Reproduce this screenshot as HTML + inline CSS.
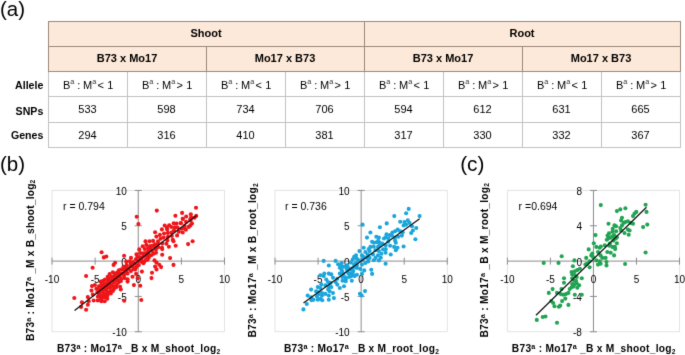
<!DOCTYPE html>
<html><head><meta charset="utf-8"><style>
html,body{margin:0;padding:0;background:#fff;width:685px;height:355px;overflow:hidden}
svg{display:block;font-family:"Liberation Sans",sans-serif}

</style></head><body><svg width="685" height="355" viewBox="0 0 685 355" font-family="Liberation Sans, sans-serif" fill="#000"><defs><filter id="soft" filterUnits="userSpaceOnUse" x="0" y="0" width="685" height="355" color-interpolation-filters="sRGB"><feConvolveMatrix order="3" kernelMatrix="0.01 0.08 0.01 0.08 0.64 0.08 0.01 0.08 0.01" edgeMode="duplicate"/></filter></defs><g filter="url(#soft)"><rect width="685" height="355" fill="#fff"/><rect x="48" y="21" width="632" height="50" fill="#fde9d9"/><line x1="48.5" y1="71" x2="48.5" y2="147.5" stroke="#c2c2c2" stroke-width="1"/><line x1="127.5" y1="71" x2="127.5" y2="147.5" stroke="#c2c2c2" stroke-width="1"/><line x1="206.5" y1="71" x2="206.5" y2="147.5" stroke="#c2c2c2" stroke-width="1"/><line x1="285.5" y1="71" x2="285.5" y2="147.5" stroke="#c2c2c2" stroke-width="1"/><line x1="364.5" y1="71" x2="364.5" y2="147.5" stroke="#c2c2c2" stroke-width="1"/><line x1="443.5" y1="71" x2="443.5" y2="147.5" stroke="#c2c2c2" stroke-width="1"/><line x1="522.5" y1="71" x2="522.5" y2="147.5" stroke="#c2c2c2" stroke-width="1"/><line x1="601.5" y1="71" x2="601.5" y2="147.5" stroke="#c2c2c2" stroke-width="1"/><line x1="680.5" y1="71" x2="680.5" y2="147.5" stroke="#c2c2c2" stroke-width="1"/><line x1="48" y1="96.5" x2="681" y2="96.5" stroke="#c2c2c2" stroke-width="1"/><line x1="48" y1="122.5" x2="681" y2="122.5" stroke="#c2c2c2" stroke-width="1"/><line x1="48" y1="147.5" x2="681" y2="147.5" stroke="#c2c2c2" stroke-width="1"/><line x1="48" y1="21.5" x2="681" y2="21.5" stroke="#9d897d" stroke-width="1"/><line x1="48" y1="46.5" x2="681" y2="46.5" stroke="#9d897d" stroke-width="1"/><line x1="48" y1="71.5" x2="681" y2="71.5" stroke="#9d897d" stroke-width="1"/><line x1="48.5" y1="21" x2="48.5" y2="71" stroke="#9d897d" stroke-width="1"/><line x1="364.5" y1="21" x2="364.5" y2="71" stroke="#9d897d" stroke-width="1"/><line x1="680.5" y1="21" x2="680.5" y2="71" stroke="#9d897d" stroke-width="1"/><line x1="206.5" y1="46" x2="206.5" y2="71" stroke="#9d897d" stroke-width="1"/><line x1="522.5" y1="46" x2="522.5" y2="71" stroke="#9d897d" stroke-width="1"/><text x="206" y="37" font-size="11" text-anchor="middle" font-weight="bold" >Shoot</text><text x="522" y="37" font-size="11" text-anchor="middle" font-weight="bold" >Root</text><text x="127" y="62" font-size="11" text-anchor="middle" font-weight="bold" >B73 x Mo17</text><text x="285" y="62" font-size="11" text-anchor="middle" font-weight="bold" >Mo17 x B73</text><text x="443" y="62" font-size="11" text-anchor="middle" font-weight="bold" >B73 x Mo17</text><text x="601" y="62" font-size="11" text-anchor="middle" font-weight="bold" >Mo17 x B73</text><text x="43.3" y="89.3" font-size="10.6" text-anchor="end" font-weight="bold" >Allele</text><text x="43.3" y="114.5" font-size="10.6" text-anchor="end" font-weight="bold" >SNPs</text><text x="43.3" y="139" font-size="10.6" text-anchor="end" font-weight="bold" >Genes</text><text font-size="11" y="89.2"><tspan x="62.9">B</tspan><tspan x="77.2">:</tspan><tspan x="83.1">M</tspan><tspan x="97.4">&lt;</tspan><tspan x="107.3">1</tspan></text><text font-size="7.3" y="83.9" fill="#333"><tspan x="70.2">a</tspan><tspan x="92.2">a</tspan></text><text font-size="11" y="89.2"><tspan x="141.9">B</tspan><tspan x="156.2">:</tspan><tspan x="162.1">M</tspan><tspan x="176.4">&gt;</tspan><tspan x="186.3">1</tspan></text><text font-size="7.3" y="83.9" fill="#333"><tspan x="149.2">a</tspan><tspan x="171.2">a</tspan></text><text font-size="11" y="89.2"><tspan x="220.9">B</tspan><tspan x="235.2">:</tspan><tspan x="241.1">M</tspan><tspan x="255.4">&lt;</tspan><tspan x="265.3">1</tspan></text><text font-size="7.3" y="83.9" fill="#333"><tspan x="228.2">a</tspan><tspan x="250.2">a</tspan></text><text font-size="11" y="89.2"><tspan x="299.9">B</tspan><tspan x="314.2">:</tspan><tspan x="320.1">M</tspan><tspan x="334.4">&gt;</tspan><tspan x="344.3">1</tspan></text><text font-size="7.3" y="83.9" fill="#333"><tspan x="307.2">a</tspan><tspan x="329.2">a</tspan></text><text font-size="11" y="89.2"><tspan x="378.9">B</tspan><tspan x="393.2">:</tspan><tspan x="399.1">M</tspan><tspan x="413.4">&lt;</tspan><tspan x="423.3">1</tspan></text><text font-size="7.3" y="83.9" fill="#333"><tspan x="386.2">a</tspan><tspan x="408.2">a</tspan></text><text font-size="11" y="89.2"><tspan x="457.9">B</tspan><tspan x="472.2">:</tspan><tspan x="478.1">M</tspan><tspan x="492.4">&gt;</tspan><tspan x="502.3">1</tspan></text><text font-size="7.3" y="83.9" fill="#333"><tspan x="465.2">a</tspan><tspan x="487.2">a</tspan></text><text font-size="11" y="89.2"><tspan x="536.9">B</tspan><tspan x="551.2">:</tspan><tspan x="557.1">M</tspan><tspan x="571.4">&lt;</tspan><tspan x="581.3">1</tspan></text><text font-size="7.3" y="83.9" fill="#333"><tspan x="544.2">a</tspan><tspan x="566.2">a</tspan></text><text font-size="11" y="89.2"><tspan x="615.9">B</tspan><tspan x="630.2">:</tspan><tspan x="636.1">M</tspan><tspan x="650.4">&gt;</tspan><tspan x="660.3">1</tspan></text><text font-size="7.3" y="83.9" fill="#333"><tspan x="623.2">a</tspan><tspan x="645.2">a</tspan></text><text x="87.5" y="113.3" font-size="11" text-anchor="middle" font-weight="normal" >533</text><text x="87.5" y="138.6" font-size="11" text-anchor="middle" font-weight="normal" >294</text><text x="166.5" y="113.3" font-size="11" text-anchor="middle" font-weight="normal" >598</text><text x="166.5" y="138.6" font-size="11" text-anchor="middle" font-weight="normal" >316</text><text x="245.5" y="113.3" font-size="11" text-anchor="middle" font-weight="normal" >734</text><text x="245.5" y="138.6" font-size="11" text-anchor="middle" font-weight="normal" >410</text><text x="324.5" y="113.3" font-size="11" text-anchor="middle" font-weight="normal" >706</text><text x="324.5" y="138.6" font-size="11" text-anchor="middle" font-weight="normal" >381</text><text x="403.5" y="113.3" font-size="11" text-anchor="middle" font-weight="normal" >594</text><text x="403.5" y="138.6" font-size="11" text-anchor="middle" font-weight="normal" >317</text><text x="482.5" y="113.3" font-size="11" text-anchor="middle" font-weight="normal" >612</text><text x="482.5" y="138.6" font-size="11" text-anchor="middle" font-weight="normal" >330</text><text x="561.5" y="113.3" font-size="11" text-anchor="middle" font-weight="normal" >631</text><text x="561.5" y="138.6" font-size="11" text-anchor="middle" font-weight="normal" >332</text><text x="640.5" y="113.3" font-size="11" text-anchor="middle" font-weight="normal" >665</text><text x="640.5" y="138.6" font-size="11" text-anchor="middle" font-weight="normal" >367</text><text x="0" y="15.6" font-size="20.5" text-anchor="start" font-weight="normal" >(a)</text><text x="0" y="171.4" font-size="20.5" text-anchor="start" font-weight="normal" >(b)</text><text x="460.2" y="171.4" font-size="20.8" text-anchor="start" font-weight="normal" >(c)</text><rect x="52" y="190.4" width="172.5" height="141.29999999999998" fill="none" stroke="#e3e3e3" stroke-width="1"/><line x1="52" y1="261.1" x2="224.5" y2="261.1" stroke="#8c8c8c" stroke-width="1"/><line x1="138.25" y1="190.4" x2="138.25" y2="331.7" stroke="#8c8c8c" stroke-width="1"/><line x1="52.0" y1="257.6" x2="52.0" y2="264.6" stroke="#8c8c8c" stroke-width="1"/><text x="52.0" y="283.3" font-size="10" text-anchor="middle" font-weight="normal" >-10</text><line x1="95.125" y1="257.6" x2="95.125" y2="264.6" stroke="#8c8c8c" stroke-width="1"/><text x="95.125" y="283.3" font-size="10" text-anchor="middle" font-weight="normal" >-5</text><line x1="138.25" y1="257.6" x2="138.25" y2="264.6" stroke="#8c8c8c" stroke-width="1"/><text x="138.25" y="283.3" font-size="10" text-anchor="middle" font-weight="normal" >0</text><line x1="181.375" y1="257.6" x2="181.375" y2="264.6" stroke="#8c8c8c" stroke-width="1"/><text x="181.375" y="283.3" font-size="10" text-anchor="middle" font-weight="normal" >5</text><line x1="224.5" y1="257.6" x2="224.5" y2="264.6" stroke="#8c8c8c" stroke-width="1"/><text x="224.5" y="283.3" font-size="10" text-anchor="middle" font-weight="normal" >10</text><line x1="134.75" y1="331.75" x2="141.75" y2="331.75" stroke="#8c8c8c" stroke-width="1"/><text x="126.75" y="336.15" font-size="10" text-anchor="end" font-weight="normal" >-10</text><line x1="134.75" y1="296.425" x2="141.75" y2="296.425" stroke="#8c8c8c" stroke-width="1"/><text x="126.75" y="300.825" font-size="10" text-anchor="end" font-weight="normal" >-5</text><line x1="134.75" y1="261.1" x2="141.75" y2="261.1" stroke="#8c8c8c" stroke-width="1"/><text x="126.75" y="265.5" font-size="10" text-anchor="end" font-weight="normal" >0</text><line x1="134.75" y1="225.77500000000003" x2="141.75" y2="225.77500000000003" stroke="#8c8c8c" stroke-width="1"/><text x="126.75" y="230.17500000000004" font-size="10" text-anchor="end" font-weight="normal" >5</text><line x1="134.75" y1="190.45000000000005" x2="141.75" y2="190.45000000000005" stroke="#8c8c8c" stroke-width="1"/><text x="126.75" y="194.85000000000005" font-size="10" text-anchor="end" font-weight="normal" >10</text><text x="63" y="209.6" font-size="10.5" text-anchor="start" font-weight="normal" >r = 0.794</text><circle cx="156.8" cy="210.6" r="2.05" fill="#ee1519"/><circle cx="136.7" cy="216.7" r="2.05" fill="#ee1519"/><circle cx="138.4" cy="224.0" r="2.05" fill="#ee1519"/><circle cx="196.0" cy="207.7" r="2.05" fill="#ee1519"/><circle cx="196.2" cy="215.9" r="2.05" fill="#ee1519"/><circle cx="182.1" cy="212.9" r="2.05" fill="#ee1519"/><circle cx="175.4" cy="215.7" r="2.05" fill="#ee1519"/><circle cx="182.7" cy="218.7" r="2.05" fill="#ee1519"/><circle cx="191.2" cy="217.4" r="2.05" fill="#ee1519"/><circle cx="190.6" cy="220.4" r="2.05" fill="#ee1519"/><circle cx="190.4" cy="225.4" r="2.05" fill="#ee1519"/><circle cx="184.7" cy="228.4" r="2.05" fill="#ee1519"/><circle cx="192.6" cy="241.2" r="2.05" fill="#ee1519"/><circle cx="188.1" cy="244.1" r="2.05" fill="#ee1519"/><circle cx="175.7" cy="245.7" r="2.05" fill="#ee1519"/><circle cx="173.5" cy="241.2" r="2.05" fill="#ee1519"/><circle cx="168.9" cy="246.8" r="2.05" fill="#ee1519"/><circle cx="162.2" cy="249.1" r="2.05" fill="#ee1519"/><circle cx="162.2" cy="254.7" r="2.05" fill="#ee1519"/><circle cx="170.1" cy="258.1" r="2.05" fill="#ee1519"/><circle cx="173.5" cy="264.9" r="2.05" fill="#ee1519"/><circle cx="156.5" cy="262.6" r="2.05" fill="#ee1519"/><circle cx="161.1" cy="267.1" r="2.05" fill="#ee1519"/><circle cx="156.5" cy="269.4" r="2.05" fill="#ee1519"/><circle cx="152" cy="272.7" r="2.05" fill="#ee1519"/><circle cx="141.9" cy="271.6" r="2.05" fill="#ee1519"/><circle cx="135.1" cy="269.4" r="2.05" fill="#ee1519"/><circle cx="101.6" cy="252.2" r="2.05" fill="#ee1519"/><circle cx="103.8" cy="257.4" r="2.05" fill="#ee1519"/><circle cx="106.3" cy="256.5" r="2.05" fill="#ee1519"/><circle cx="115.1" cy="262.7" r="2.05" fill="#ee1519"/><circle cx="113.6" cy="264.9" r="2.05" fill="#ee1519"/><circle cx="124.1" cy="255.7" r="2.05" fill="#ee1519"/><circle cx="92.6" cy="267.7" r="2.05" fill="#ee1519"/><circle cx="145.5" cy="241.3" r="2.05" fill="#ee1519"/><circle cx="155.1" cy="232.3" r="2.05" fill="#ee1519"/><circle cx="154.5" cy="260.4" r="2.05" fill="#ee1519"/><circle cx="155.1" cy="266.6" r="2.05" fill="#ee1519"/><circle cx="136.1" cy="273.9" r="2.05" fill="#ee1519"/><circle cx="132.5" cy="276.7" r="2.05" fill="#ee1519"/><circle cx="127.6" cy="281.6" r="2.05" fill="#ee1519"/><circle cx="133.9" cy="285.1" r="2.05" fill="#ee1519"/><circle cx="140.3" cy="285.8" r="2.05" fill="#ee1519"/><circle cx="151.5" cy="278.1" r="2.05" fill="#ee1519"/><circle cx="159.3" cy="264.7" r="2.05" fill="#ee1519"/><circle cx="86.1" cy="276" r="2.05" fill="#ee1519"/><circle cx="92" cy="286.1" r="2.05" fill="#ee1519"/><circle cx="96.3" cy="288.7" r="2.05" fill="#ee1519"/><circle cx="74.3" cy="298" r="2.05" fill="#ee1519"/><circle cx="81.9" cy="302.2" r="2.05" fill="#ee1519"/><circle cx="81.1" cy="306.9" r="2.05" fill="#ee1519"/><circle cx="86.1" cy="309.8" r="2.05" fill="#ee1519"/><circle cx="87.8" cy="304.7" r="2.05" fill="#ee1519"/><circle cx="88.7" cy="301.3" r="2.05" fill="#ee1519"/><circle cx="87.8" cy="297.1" r="2.05" fill="#ee1519"/><circle cx="92.9" cy="294.6" r="2.05" fill="#ee1519"/><circle cx="93.7" cy="300.5" r="2.05" fill="#ee1519"/><circle cx="101.3" cy="301.3" r="2.05" fill="#ee1519"/><circle cx="104.7" cy="301.3" r="2.05" fill="#ee1519"/><circle cx="120.8" cy="289.5" r="2.05" fill="#ee1519"/><circle cx="107.3" cy="298.8" r="2.05" fill="#ee1519"/><circle cx="124.2" cy="300.7" r="2.05" fill="#ee1519"/><circle cx="127.6" cy="279.3" r="2.05" fill="#ee1519"/><circle cx="137.7" cy="278.2" r="2.05" fill="#ee1519"/><circle cx="94.9" cy="285" r="2.05" fill="#ee1519"/><circle cx="91.5" cy="290.6" r="2.05" fill="#ee1519"/><circle cx="164.7" cy="225.5" r="2.05" fill="#ee1519"/><circle cx="169.2" cy="225.2" r="2.05" fill="#ee1519"/><circle cx="166.9" cy="227.7" r="2.05" fill="#ee1519"/><circle cx="161.9" cy="229.4" r="2.05" fill="#ee1519"/><circle cx="181.0" cy="223.2" r="2.05" fill="#ee1519"/><circle cx="173.7" cy="223.2" r="2.05" fill="#ee1519"/><circle cx="174.8" cy="227.2" r="2.05" fill="#ee1519"/><circle cx="141.3" cy="300" r="2.05" fill="#ee1519"/><circle cx="120.1" cy="286.8" r="2.05" fill="#ee1519"/><circle cx="147.6" cy="259.8" r="2.05" fill="#ee1519"/><circle cx="143.4" cy="263.2" r="2.05" fill="#ee1519"/><circle cx="110.2" cy="287.7" r="2.05" fill="#ee1519"/><circle cx="171.8" cy="236.0" r="2.05" fill="#ee1519"/><circle cx="145.6" cy="253.0" r="2.05" fill="#ee1519"/><circle cx="139.9" cy="257.0" r="2.05" fill="#ee1519"/><circle cx="126.7" cy="265.0" r="2.05" fill="#ee1519"/><circle cx="148.1" cy="248.1" r="2.05" fill="#ee1519"/><circle cx="153.6" cy="253.8" r="2.05" fill="#ee1519"/><circle cx="190.8" cy="214.2" r="2.05" fill="#ee1519"/><circle cx="152.0" cy="250.9" r="2.05" fill="#ee1519"/><circle cx="102.5" cy="289.7" r="2.05" fill="#ee1519"/><circle cx="146.5" cy="256.0" r="2.05" fill="#ee1519"/><circle cx="107.7" cy="292.3" r="2.05" fill="#ee1519"/><circle cx="111.4" cy="276.5" r="2.05" fill="#ee1519"/><circle cx="118.9" cy="270.3" r="2.05" fill="#ee1519"/><circle cx="135.7" cy="264.0" r="2.05" fill="#ee1519"/><circle cx="128.5" cy="268.8" r="2.05" fill="#ee1519"/><circle cx="117.2" cy="272.6" r="2.05" fill="#ee1519"/><circle cx="120.0" cy="277.0" r="2.05" fill="#ee1519"/><circle cx="192.0" cy="223.5" r="2.05" fill="#ee1519"/><circle cx="129.8" cy="261.2" r="2.05" fill="#ee1519"/><circle cx="184.6" cy="226.1" r="2.05" fill="#ee1519"/><circle cx="186.2" cy="216.5" r="2.05" fill="#ee1519"/><circle cx="136.3" cy="267.2" r="2.05" fill="#ee1519"/><circle cx="148.8" cy="257.4" r="2.05" fill="#ee1519"/><circle cx="124.0" cy="270.1" r="2.05" fill="#ee1519"/><circle cx="112.6" cy="280.6" r="2.05" fill="#ee1519"/><circle cx="101.0" cy="299.4" r="2.05" fill="#ee1519"/><circle cx="155.9" cy="249.4" r="2.05" fill="#ee1519"/><circle cx="121.3" cy="279.1" r="2.05" fill="#ee1519"/><circle cx="178.9" cy="231.8" r="2.05" fill="#ee1519"/><circle cx="121.6" cy="273.4" r="2.05" fill="#ee1519"/><circle cx="107.6" cy="284.2" r="2.05" fill="#ee1519"/><circle cx="108.6" cy="278.9" r="2.05" fill="#ee1519"/><circle cx="153.1" cy="240.9" r="2.05" fill="#ee1519"/><circle cx="146.3" cy="244.9" r="2.05" fill="#ee1519"/><circle cx="140.3" cy="253.0" r="2.05" fill="#ee1519"/><circle cx="104.3" cy="286.2" r="2.05" fill="#ee1519"/><circle cx="123.4" cy="266.9" r="2.05" fill="#ee1519"/><circle cx="113.9" cy="282.7" r="2.05" fill="#ee1519"/><circle cx="100.0" cy="292.2" r="2.05" fill="#ee1519"/><circle cx="158.0" cy="241.4" r="2.05" fill="#ee1519"/><circle cx="174.0" cy="230.3" r="2.05" fill="#ee1519"/><circle cx="156.4" cy="236.6" r="2.05" fill="#ee1519"/><circle cx="167.4" cy="240.4" r="2.05" fill="#ee1519"/><circle cx="194.5" cy="217.8" r="2.05" fill="#ee1519"/><circle cx="171.3" cy="227.0" r="2.05" fill="#ee1519"/><circle cx="162.0" cy="247.7" r="2.05" fill="#ee1519"/><circle cx="159.9" cy="234.9" r="2.05" fill="#ee1519"/><circle cx="102.9" cy="295.3" r="2.05" fill="#ee1519"/><circle cx="154.9" cy="244.2" r="2.05" fill="#ee1519"/><circle cx="109.7" cy="283.1" r="2.05" fill="#ee1519"/><circle cx="130.8" cy="263.9" r="2.05" fill="#ee1519"/><circle cx="101.3" cy="284.8" r="2.05" fill="#ee1519"/><circle cx="146.1" cy="259.6" r="2.05" fill="#ee1519"/><circle cx="136.5" cy="254.3" r="2.05" fill="#ee1519"/><circle cx="185.9" cy="229.8" r="2.05" fill="#ee1519"/><circle cx="114.0" cy="288.9" r="2.05" fill="#ee1519"/><circle cx="116.7" cy="278.9" r="2.05" fill="#ee1519"/><circle cx="144.7" cy="249.0" r="2.05" fill="#ee1519"/><circle cx="152.5" cy="245.9" r="2.05" fill="#ee1519"/><circle cx="180.7" cy="223.0" r="2.05" fill="#ee1519"/><circle cx="123.9" cy="275.4" r="2.05" fill="#ee1519"/><circle cx="130.2" cy="266.6" r="2.05" fill="#ee1519"/><circle cx="164.1" cy="233.5" r="2.05" fill="#ee1519"/><circle cx="163.6" cy="237.6" r="2.05" fill="#ee1519"/><circle cx="97.8" cy="296.8" r="2.05" fill="#ee1519"/><circle cx="130.9" cy="271.1" r="2.05" fill="#ee1519"/><circle cx="114.1" cy="276.3" r="2.05" fill="#ee1519"/><circle cx="143.2" cy="256.7" r="2.05" fill="#ee1519"/><circle cx="116.7" cy="285.0" r="2.05" fill="#ee1519"/><circle cx="107.1" cy="288.3" r="2.05" fill="#ee1519"/><circle cx="186.0" cy="221.9" r="2.05" fill="#ee1519"/><circle cx="103.3" cy="292.8" r="2.05" fill="#ee1519"/><circle cx="138.8" cy="265.1" r="2.05" fill="#ee1519"/><circle cx="102.4" cy="297.7" r="2.05" fill="#ee1519"/><circle cx="167.9" cy="232.9" r="2.05" fill="#ee1519"/><circle cx="166.4" cy="243.7" r="2.05" fill="#ee1519"/><circle cx="158.3" cy="247.2" r="2.05" fill="#ee1519"/><circle cx="109.6" cy="274.0" r="2.05" fill="#ee1519"/><circle cx="148.6" cy="254.0" r="2.05" fill="#ee1519"/><circle cx="133.3" cy="262.1" r="2.05" fill="#ee1519"/><circle cx="104.1" cy="283.3" r="2.05" fill="#ee1519"/><circle cx="162.3" cy="243.6" r="2.05" fill="#ee1519"/><circle cx="135.9" cy="259.3" r="2.05" fill="#ee1519"/><circle cx="182.9" cy="218.9" r="2.05" fill="#ee1519"/><circle cx="141.9" cy="261.9" r="2.05" fill="#ee1519"/><circle cx="149.5" cy="241.3" r="2.05" fill="#ee1519"/><circle cx="121.1" cy="269.5" r="2.05" fill="#ee1519"/><circle cx="115.2" cy="280.7" r="2.05" fill="#ee1519"/><circle cx="107.4" cy="282.0" r="2.05" fill="#ee1519"/><circle cx="118.2" cy="282.7" r="2.05" fill="#ee1519"/><circle cx="116.0" cy="275.4" r="2.05" fill="#ee1519"/><circle cx="102.2" cy="287.1" r="2.05" fill="#ee1519"/><circle cx="133.5" cy="269.3" r="2.05" fill="#ee1519"/><circle cx="98.7" cy="290.0" r="2.05" fill="#ee1519"/><circle cx="172.8" cy="239.8" r="2.05" fill="#ee1519"/><circle cx="127.6" cy="273.6" r="2.05" fill="#ee1519"/><circle cx="177.5" cy="227.6" r="2.05" fill="#ee1519"/><circle cx="132.9" cy="266.8" r="2.05" fill="#ee1519"/><circle cx="119.5" cy="273.7" r="2.05" fill="#ee1519"/><circle cx="131.0" cy="257.9" r="2.05" fill="#ee1519"/><circle cx="142.7" cy="246.3" r="2.05" fill="#ee1519"/><circle cx="110.4" cy="291.0" r="2.05" fill="#ee1519"/><circle cx="106.2" cy="290.4" r="2.05" fill="#ee1519"/><circle cx="107.7" cy="276.8" r="2.05" fill="#ee1519"/><circle cx="107.5" cy="295.5" r="2.05" fill="#ee1519"/><circle cx="105.1" cy="297.3" r="2.05" fill="#ee1519"/><circle cx="148.1" cy="250.9" r="2.05" fill="#ee1519"/><circle cx="100.0" cy="296.6" r="2.05" fill="#ee1519"/><circle cx="188.7" cy="226.9" r="2.05" fill="#ee1519"/><circle cx="190.2" cy="219.3" r="2.05" fill="#ee1519"/><circle cx="113.8" cy="286.5" r="2.05" fill="#ee1519"/><circle cx="138.5" cy="261.2" r="2.05" fill="#ee1519"/><circle cx="100.7" cy="281.6" r="2.05" fill="#ee1519"/><circle cx="105.0" cy="279.5" r="2.05" fill="#ee1519"/><circle cx="104.7" cy="288.8" r="2.05" fill="#ee1519"/><circle cx="110.8" cy="293.5" r="2.05" fill="#ee1519"/><circle cx="112.8" cy="272.2" r="2.05" fill="#ee1519"/><circle cx="111.7" cy="285.0" r="2.05" fill="#ee1519"/><circle cx="118.6" cy="280.3" r="2.05" fill="#ee1519"/><circle cx="99.0" cy="286.2" r="2.05" fill="#ee1519"/><circle cx="171.6" cy="232.5" r="2.05" fill="#ee1519"/><circle cx="99.1" cy="294.2" r="2.05" fill="#ee1519"/><circle cx="116.2" cy="287.2" r="2.05" fill="#ee1519"/><circle cx="181.5" cy="228.8" r="2.05" fill="#ee1519"/><circle cx="97.7" cy="300.5" r="2.05" fill="#ee1519"/><circle cx="143.0" cy="253.4" r="2.05" fill="#ee1519"/><circle cx="97.4" cy="292.3" r="2.05" fill="#ee1519"/><circle cx="167.2" cy="229.4" r="2.05" fill="#ee1519"/><circle cx="103.1" cy="280.7" r="2.05" fill="#ee1519"/><circle cx="167.9" cy="236.9" r="2.05" fill="#ee1519"/><circle cx="157.9" cy="244.1" r="2.05" fill="#ee1519"/><circle cx="176.6" cy="223.6" r="2.05" fill="#ee1519"/><circle cx="177.1" cy="235.4" r="2.05" fill="#ee1519"/><circle cx="113.0" cy="278.4" r="2.05" fill="#ee1519"/><circle cx="137.3" cy="257.0" r="2.05" fill="#ee1519"/><circle cx="156.0" cy="252.8" r="2.05" fill="#ee1519"/><circle cx="105.6" cy="294.2" r="2.05" fill="#ee1519"/><circle cx="125.0" cy="272.9" r="2.05" fill="#ee1519"/><circle cx="109.0" cy="285.8" r="2.05" fill="#ee1519"/><circle cx="126.0" cy="267.4" r="2.05" fill="#ee1519"/><circle cx="139.3" cy="249.4" r="2.05" fill="#ee1519"/><circle cx="160.6" cy="238.8" r="2.05" fill="#ee1519"/><circle cx="120.7" cy="281.2" r="2.05" fill="#ee1519"/><circle cx="112.9" cy="290.9" r="2.05" fill="#ee1519"/><circle cx="151.2" cy="255.3" r="2.05" fill="#ee1519"/><circle cx="141.4" cy="259.3" r="2.05" fill="#ee1519"/><circle cx="155.1" cy="246.8" r="2.05" fill="#ee1519"/><circle cx="126.7" cy="270.7" r="2.05" fill="#ee1519"/><circle cx="150.7" cy="248.5" r="2.05" fill="#ee1519"/><circle cx="118.2" cy="275.6" r="2.05" fill="#ee1519"/><circle cx="144.4" cy="261.5" r="2.05" fill="#ee1519"/><circle cx="126.3" cy="261.5" r="2.05" fill="#ee1519"/><circle cx="124.5" cy="278.1" r="2.05" fill="#ee1519"/><circle cx="100.3" cy="288.5" r="2.05" fill="#ee1519"/><circle cx="110.3" cy="280.3" r="2.05" fill="#ee1519"/><circle cx="150.0" cy="246.1" r="2.05" fill="#ee1519"/><circle cx="106.5" cy="286.1" r="2.05" fill="#ee1519"/><circle cx="182.7" cy="232.5" r="2.05" fill="#ee1519"/><circle cx="114.7" cy="273.6" r="2.05" fill="#ee1519"/><line x1="74.6" y1="310.4" x2="196.5" y2="215.5" stroke="#111" stroke-width="1.25"/><text x="138.55" y="352.2" font-size="10.2" text-anchor="middle" font-weight="bold" textLength="163.1" lengthAdjust="spacing">B73<tspan font-size="7.2" dy="-2.8">a</tspan><tspan dy="2.8"> : Mo17</tspan><tspan font-size="7.2" dy="-2.8">a</tspan><tspan dy="2.8"> _B x M_shoot_log</tspan><tspan font-size="6.6" dy="1.9">2</tspan></text><text x="0" y="0" font-size="10.2" text-anchor="middle" font-weight="bold" textLength="161.3" lengthAdjust="spacing" transform="translate(33.5,260.35) rotate(-90)">B73<tspan font-size="7.2" dy="-2.8">a</tspan><tspan dy="2.8"> : Mo17</tspan><tspan font-size="7.2" dy="-2.8">a</tspan><tspan dy="2.8"> _M x B_shoot_log</tspan><tspan font-size="6.6" dy="1.9">2</tspan></text><rect x="275" y="190.4" width="172.3" height="141.29999999999998" fill="none" stroke="#e3e3e3" stroke-width="1"/><line x1="275" y1="261.1" x2="447.3" y2="261.1" stroke="#8c8c8c" stroke-width="1"/><line x1="361.15" y1="190.4" x2="361.15" y2="331.7" stroke="#8c8c8c" stroke-width="1"/><line x1="275.0" y1="257.6" x2="275.0" y2="264.6" stroke="#8c8c8c" stroke-width="1"/><text x="275.0" y="283.3" font-size="10" text-anchor="middle" font-weight="normal" >-10</text><line x1="318.075" y1="257.6" x2="318.075" y2="264.6" stroke="#8c8c8c" stroke-width="1"/><text x="318.075" y="283.3" font-size="10" text-anchor="middle" font-weight="normal" >-5</text><line x1="361.15" y1="257.6" x2="361.15" y2="264.6" stroke="#8c8c8c" stroke-width="1"/><text x="361.15" y="283.3" font-size="10" text-anchor="middle" font-weight="normal" >0</text><line x1="404.22499999999997" y1="257.6" x2="404.22499999999997" y2="264.6" stroke="#8c8c8c" stroke-width="1"/><text x="404.22499999999997" y="283.3" font-size="10" text-anchor="middle" font-weight="normal" >5</text><line x1="447.29999999999995" y1="257.6" x2="447.29999999999995" y2="264.6" stroke="#8c8c8c" stroke-width="1"/><text x="447.29999999999995" y="283.3" font-size="10" text-anchor="middle" font-weight="normal" >10</text><line x1="357.65" y1="331.75" x2="364.65" y2="331.75" stroke="#8c8c8c" stroke-width="1"/><text x="349.65" y="336.15" font-size="10" text-anchor="end" font-weight="normal" >-10</text><line x1="357.65" y1="296.425" x2="364.65" y2="296.425" stroke="#8c8c8c" stroke-width="1"/><text x="349.65" y="300.825" font-size="10" text-anchor="end" font-weight="normal" >-5</text><line x1="357.65" y1="261.1" x2="364.65" y2="261.1" stroke="#8c8c8c" stroke-width="1"/><text x="349.65" y="265.5" font-size="10" text-anchor="end" font-weight="normal" >0</text><line x1="357.65" y1="225.77500000000003" x2="364.65" y2="225.77500000000003" stroke="#8c8c8c" stroke-width="1"/><text x="349.65" y="230.17500000000004" font-size="10" text-anchor="end" font-weight="normal" >5</text><line x1="357.65" y1="190.45000000000005" x2="364.65" y2="190.45000000000005" stroke="#8c8c8c" stroke-width="1"/><text x="349.65" y="194.85000000000005" font-size="10" text-anchor="end" font-weight="normal" >10</text><text x="285" y="209.6" font-size="10.5" text-anchor="start" font-weight="normal" >r = 0.736</text><circle cx="323.7" cy="260.9" r="2.05" fill="#1aa5dc"/><circle cx="335.6" cy="260.9" r="2.05" fill="#1aa5dc"/><circle cx="338.1" cy="264.3" r="2.05" fill="#1aa5dc"/><circle cx="328.8" cy="265.5" r="2.05" fill="#1aa5dc"/><circle cx="339.8" cy="267.7" r="2.05" fill="#1aa5dc"/><circle cx="344" cy="266.8" r="2.05" fill="#1aa5dc"/><circle cx="350.8" cy="262.6" r="2.05" fill="#1aa5dc"/><circle cx="354.2" cy="266.8" r="2.05" fill="#1aa5dc"/><circle cx="347.4" cy="271.1" r="2.05" fill="#1aa5dc"/><circle cx="342.3" cy="271.9" r="2.05" fill="#1aa5dc"/><circle cx="339.8" cy="273.6" r="2.05" fill="#1aa5dc"/><circle cx="350.8" cy="273.6" r="2.05" fill="#1aa5dc"/><circle cx="353.3" cy="271.1" r="2.05" fill="#1aa5dc"/><circle cx="328.8" cy="273.6" r="2.05" fill="#1aa5dc"/><circle cx="331.3" cy="274.4" r="2.05" fill="#1aa5dc"/><circle cx="323.7" cy="276.1" r="2.05" fill="#1aa5dc"/><circle cx="320.4" cy="275.3" r="2.05" fill="#1aa5dc"/><circle cx="333" cy="277.8" r="2.05" fill="#1aa5dc"/><circle cx="337.3" cy="278.7" r="2.05" fill="#1aa5dc"/><circle cx="342.3" cy="277" r="2.05" fill="#1aa5dc"/><circle cx="345.7" cy="281.2" r="2.05" fill="#1aa5dc"/><circle cx="349.1" cy="277" r="2.05" fill="#1aa5dc"/><circle cx="335.6" cy="282" r="2.05" fill="#1aa5dc"/><circle cx="328" cy="282" r="2.05" fill="#1aa5dc"/><circle cx="330.5" cy="282.9" r="2.05" fill="#1aa5dc"/><circle cx="325.4" cy="285.4" r="2.05" fill="#1aa5dc"/><circle cx="328.8" cy="286.3" r="2.05" fill="#1aa5dc"/><circle cx="331.3" cy="287.1" r="2.05" fill="#1aa5dc"/><circle cx="337.3" cy="284.6" r="2.05" fill="#1aa5dc"/><circle cx="339.8" cy="288" r="2.05" fill="#1aa5dc"/><circle cx="344" cy="286.3" r="2.05" fill="#1aa5dc"/><circle cx="317.8" cy="287.1" r="2.05" fill="#1aa5dc"/><circle cx="320.4" cy="288" r="2.05" fill="#1aa5dc"/><circle cx="311.1" cy="289.6" r="2.05" fill="#1aa5dc"/><circle cx="316.1" cy="291.3" r="2.05" fill="#1aa5dc"/><circle cx="318.7" cy="292.2" r="2.05" fill="#1aa5dc"/><circle cx="322" cy="293" r="2.05" fill="#1aa5dc"/><circle cx="325.4" cy="293.9" r="2.05" fill="#1aa5dc"/><circle cx="329.6" cy="291.3" r="2.05" fill="#1aa5dc"/><circle cx="333" cy="293" r="2.05" fill="#1aa5dc"/><circle cx="307.7" cy="295.6" r="2.05" fill="#1aa5dc"/><circle cx="311.1" cy="297.3" r="2.05" fill="#1aa5dc"/><circle cx="317" cy="296.4" r="2.05" fill="#1aa5dc"/><circle cx="322" cy="295.6" r="2.05" fill="#1aa5dc"/><circle cx="320.4" cy="298.9" r="2.05" fill="#1aa5dc"/><circle cx="317.8" cy="299.8" r="2.05" fill="#1aa5dc"/><circle cx="328.8" cy="299.8" r="2.05" fill="#1aa5dc"/><circle cx="328.8" cy="295.6" r="2.05" fill="#1aa5dc"/><circle cx="333.9" cy="298.1" r="2.05" fill="#1aa5dc"/><circle cx="306.8" cy="304" r="2.05" fill="#1aa5dc"/><circle cx="303.4" cy="309.4" r="2.05" fill="#1aa5dc"/><circle cx="313.6" cy="299.8" r="2.05" fill="#1aa5dc"/><circle cx="370.4" cy="232.5" r="2.05" fill="#1aa5dc"/><circle cx="367" cy="237.6" r="2.05" fill="#1aa5dc"/><circle cx="376.3" cy="236.8" r="2.05" fill="#1aa5dc"/><circle cx="378.9" cy="237.6" r="2.05" fill="#1aa5dc"/><circle cx="386.5" cy="234.2" r="2.05" fill="#1aa5dc"/><circle cx="389.9" cy="235.1" r="2.05" fill="#1aa5dc"/><circle cx="392.4" cy="232.5" r="2.05" fill="#1aa5dc"/><circle cx="394.9" cy="237.6" r="2.05" fill="#1aa5dc"/><circle cx="398.3" cy="236.8" r="2.05" fill="#1aa5dc"/><circle cx="384" cy="238.5" r="2.05" fill="#1aa5dc"/><circle cx="373.8" cy="242.7" r="2.05" fill="#1aa5dc"/><circle cx="372.1" cy="241.8" r="2.05" fill="#1aa5dc"/><circle cx="379.7" cy="242.7" r="2.05" fill="#1aa5dc"/><circle cx="382.3" cy="243.5" r="2.05" fill="#1aa5dc"/><circle cx="388.2" cy="241.8" r="2.05" fill="#1aa5dc"/><circle cx="395.8" cy="242.7" r="2.05" fill="#1aa5dc"/><circle cx="394.1" cy="246.9" r="2.05" fill="#1aa5dc"/><circle cx="385.6" cy="245.2" r="2.05" fill="#1aa5dc"/><circle cx="378" cy="246.9" r="2.05" fill="#1aa5dc"/><circle cx="370.4" cy="246.9" r="2.05" fill="#1aa5dc"/><circle cx="363.7" cy="247.7" r="2.05" fill="#1aa5dc"/><circle cx="359.4" cy="251.1" r="2.05" fill="#1aa5dc"/><circle cx="365.4" cy="252" r="2.05" fill="#1aa5dc"/><circle cx="369.6" cy="251.1" r="2.05" fill="#1aa5dc"/><circle cx="375.5" cy="250.3" r="2.05" fill="#1aa5dc"/><circle cx="378.9" cy="251.1" r="2.05" fill="#1aa5dc"/><circle cx="383.1" cy="249.4" r="2.05" fill="#1aa5dc"/><circle cx="385.6" cy="252.8" r="2.05" fill="#1aa5dc"/><circle cx="390.7" cy="254.5" r="2.05" fill="#1aa5dc"/><circle cx="395.8" cy="250.3" r="2.05" fill="#1aa5dc"/><circle cx="381.4" cy="253.7" r="2.05" fill="#1aa5dc"/><circle cx="378" cy="255.4" r="2.05" fill="#1aa5dc"/><circle cx="373" cy="254.5" r="2.05" fill="#1aa5dc"/><circle cx="362" cy="255.4" r="2.05" fill="#1aa5dc"/><circle cx="363.7" cy="257" r="2.05" fill="#1aa5dc"/><circle cx="367" cy="257.9" r="2.05" fill="#1aa5dc"/><circle cx="369.6" cy="257.9" r="2.05" fill="#1aa5dc"/><circle cx="356" cy="255.4" r="2.05" fill="#1aa5dc"/><circle cx="356.9" cy="258.7" r="2.05" fill="#1aa5dc"/><circle cx="358.6" cy="260.4" r="2.05" fill="#1aa5dc"/><circle cx="352.7" cy="259.6" r="2.05" fill="#1aa5dc"/><circle cx="375.5" cy="257.9" r="2.05" fill="#1aa5dc"/><circle cx="378.9" cy="260.4" r="2.05" fill="#1aa5dc"/><circle cx="365.4" cy="263" r="2.05" fill="#1aa5dc"/><circle cx="362" cy="264.6" r="2.05" fill="#1aa5dc"/><circle cx="356" cy="263" r="2.05" fill="#1aa5dc"/><circle cx="341.7" cy="263" r="2.05" fill="#1aa5dc"/><circle cx="346.8" cy="268.9" r="2.05" fill="#1aa5dc"/><circle cx="351" cy="269.7" r="2.05" fill="#1aa5dc"/><circle cx="356.9" cy="268" r="2.05" fill="#1aa5dc"/><circle cx="360.3" cy="268.9" r="2.05" fill="#1aa5dc"/><circle cx="371.3" cy="269.7" r="2.05" fill="#1aa5dc"/><circle cx="372.1" cy="273.9" r="2.05" fill="#1aa5dc"/><circle cx="362" cy="273.9" r="2.05" fill="#1aa5dc"/><circle cx="356.9" cy="274.8" r="2.05" fill="#1aa5dc"/><circle cx="352.7" cy="273.9" r="2.05" fill="#1aa5dc"/><circle cx="343.4" cy="273.9" r="2.05" fill="#1aa5dc"/><circle cx="345.9" cy="279" r="2.05" fill="#1aa5dc"/><circle cx="342.5" cy="280.7" r="2.05" fill="#1aa5dc"/><circle cx="351.8" cy="280.7" r="2.05" fill="#1aa5dc"/><circle cx="385.6" cy="263.8" r="2.05" fill="#1aa5dc"/><circle cx="397.5" cy="247.7" r="2.05" fill="#1aa5dc"/><circle cx="408.7" cy="208.9" r="2.05" fill="#1aa5dc"/><circle cx="406.1" cy="213.3" r="2.05" fill="#1aa5dc"/><circle cx="394.3" cy="216.1" r="2.05" fill="#1aa5dc"/><circle cx="419.6" cy="216.1" r="2.05" fill="#1aa5dc"/><circle cx="386.7" cy="223.4" r="2.05" fill="#1aa5dc"/><circle cx="400.2" cy="221.7" r="2.05" fill="#1aa5dc"/><circle cx="404.4" cy="222" r="2.05" fill="#1aa5dc"/><circle cx="407.8" cy="220.4" r="2.05" fill="#1aa5dc"/><circle cx="409.5" cy="222.9" r="2.05" fill="#1aa5dc"/><circle cx="406.1" cy="224.6" r="2.05" fill="#1aa5dc"/><circle cx="403.6" cy="225.4" r="2.05" fill="#1aa5dc"/><circle cx="412" cy="226.3" r="2.05" fill="#1aa5dc"/><circle cx="416.3" cy="228" r="2.05" fill="#1aa5dc"/><circle cx="412.9" cy="230.5" r="2.05" fill="#1aa5dc"/><circle cx="411.2" cy="233" r="2.05" fill="#1aa5dc"/><circle cx="397.7" cy="229.6" r="2.05" fill="#1aa5dc"/><circle cx="400.2" cy="231.3" r="2.05" fill="#1aa5dc"/><circle cx="395.1" cy="231.3" r="2.05" fill="#1aa5dc"/><circle cx="402.7" cy="232.2" r="2.05" fill="#1aa5dc"/><circle cx="401.9" cy="235.6" r="2.05" fill="#1aa5dc"/><circle cx="391.8" cy="235.6" r="2.05" fill="#1aa5dc"/><circle cx="385.8" cy="237.3" r="2.05" fill="#1aa5dc"/><circle cx="395.1" cy="240.6" r="2.05" fill="#1aa5dc"/><circle cx="415.4" cy="239.3" r="2.05" fill="#1aa5dc"/><circle cx="403.6" cy="246.5" r="2.05" fill="#1aa5dc"/><circle cx="390.1" cy="245.7" r="2.05" fill="#1aa5dc"/><circle cx="385.8" cy="249.1" r="2.05" fill="#1aa5dc"/><circle cx="362.5" cy="224.6" r="2.05" fill="#1aa5dc"/><circle cx="379.9" cy="227.2" r="2.05" fill="#1aa5dc"/><circle cx="378.2" cy="240.7" r="2.05" fill="#1aa5dc"/><circle cx="388.3" cy="238.2" r="2.05" fill="#1aa5dc"/><circle cx="365" cy="291.1" r="2.05" fill="#1aa5dc"/><circle cx="359.9" cy="293.7" r="2.05" fill="#1aa5dc"/><circle cx="361.6" cy="295.4" r="2.05" fill="#1aa5dc"/><circle cx="348.5" cy="273.4" r="2.05" fill="#1aa5dc"/><circle cx="311.5" cy="300.2" r="2.05" fill="#1aa5dc"/><circle cx="322.3" cy="300.2" r="2.05" fill="#1aa5dc"/><circle cx="318.4" cy="294.3" r="2.05" fill="#1aa5dc"/><circle cx="321.3" cy="284.4" r="2.05" fill="#1aa5dc"/><circle cx="324.3" cy="273.6" r="2.05" fill="#1aa5dc"/><circle cx="326.3" cy="279.5" r="2.05" fill="#1aa5dc"/><circle cx="328.2" cy="289.4" r="2.05" fill="#1aa5dc"/><circle cx="380.8" cy="257.7" r="2.05" fill="#1aa5dc"/><circle cx="368.7" cy="249" r="2.05" fill="#1aa5dc"/><circle cx="376.6" cy="242.3" r="2.05" fill="#1aa5dc"/><circle cx="379.4" cy="245.6" r="2.05" fill="#1aa5dc"/><circle cx="373.8" cy="246.8" r="2.05" fill="#1aa5dc"/><circle cx="367.6" cy="254.6" r="2.05" fill="#1aa5dc"/><circle cx="354.1" cy="256.9" r="2.05" fill="#1aa5dc"/><circle cx="362.5" cy="259.7" r="2.05" fill="#1aa5dc"/><circle cx="373.8" cy="260.3" r="2.05" fill="#1aa5dc"/><circle cx="368.2" cy="261.4" r="2.05" fill="#1aa5dc"/><circle cx="356.9" cy="265.4" r="2.05" fill="#1aa5dc"/><circle cx="354.1" cy="264.2" r="2.05" fill="#1aa5dc"/><circle cx="341.1" cy="265.9" r="2.05" fill="#1aa5dc"/><circle cx="347.3" cy="265.4" r="2.05" fill="#1aa5dc"/><circle cx="349" cy="268.2" r="2.05" fill="#1aa5dc"/><circle cx="352.4" cy="268.2" r="2.05" fill="#1aa5dc"/><circle cx="364.2" cy="270.4" r="2.05" fill="#1aa5dc"/><circle cx="341.7" cy="269.9" r="2.05" fill="#1aa5dc"/><circle cx="345.1" cy="277.2" r="2.05" fill="#1aa5dc"/><circle cx="351.3" cy="276.1" r="2.05" fill="#1aa5dc"/><circle cx="354.6" cy="276.1" r="2.05" fill="#1aa5dc"/><line x1="303.5" y1="303" x2="419.6" y2="218.7" stroke="#111" stroke-width="1.25"/><text x="361.4" y="352.2" font-size="10.2" text-anchor="middle" font-weight="bold" textLength="154.8" lengthAdjust="spacing">B73<tspan font-size="7.2" dy="-2.8">a</tspan><tspan dy="2.8"> : Mo17</tspan><tspan font-size="7.2" dy="-2.8">a</tspan><tspan dy="2.8"> _B x M_root_log</tspan><tspan font-size="6.6" dy="1.9">2</tspan></text><text x="0" y="0" font-size="10.2" text-anchor="middle" font-weight="bold" textLength="154.2" lengthAdjust="spacing" transform="translate(256,260.5) rotate(-90)">B73<tspan font-size="7.2" dy="-2.8">a</tspan><tspan dy="2.8"> : Mo17</tspan><tspan font-size="7.2" dy="-2.8">a</tspan><tspan dy="2.8"> _M x B_root_log</tspan><tspan font-size="6.6" dy="1.9">2</tspan></text><rect x="507.4" y="190.4" width="172.10000000000002" height="141.29999999999998" fill="none" stroke="#e3e3e3" stroke-width="1"/><line x1="507.4" y1="261.1" x2="679.5" y2="261.1" stroke="#8c8c8c" stroke-width="1"/><line x1="593.45" y1="190.4" x2="593.45" y2="331.7" stroke="#8c8c8c" stroke-width="1"/><line x1="507.40000000000003" y1="257.6" x2="507.40000000000003" y2="264.6" stroke="#8c8c8c" stroke-width="1"/><text x="507.40000000000003" y="283.3" font-size="10" text-anchor="middle" font-weight="normal" >-10</text><line x1="550.4250000000001" y1="257.6" x2="550.4250000000001" y2="264.6" stroke="#8c8c8c" stroke-width="1"/><text x="550.4250000000001" y="283.3" font-size="10" text-anchor="middle" font-weight="normal" >-5</text><line x1="593.45" y1="257.6" x2="593.45" y2="264.6" stroke="#8c8c8c" stroke-width="1"/><text x="593.45" y="283.3" font-size="10" text-anchor="middle" font-weight="normal" >0</text><line x1="636.475" y1="257.6" x2="636.475" y2="264.6" stroke="#8c8c8c" stroke-width="1"/><text x="636.475" y="283.3" font-size="10" text-anchor="middle" font-weight="normal" >5</text><line x1="679.5" y1="257.6" x2="679.5" y2="264.6" stroke="#8c8c8c" stroke-width="1"/><text x="679.5" y="283.3" font-size="10" text-anchor="middle" font-weight="normal" >10</text><line x1="589.95" y1="331.75" x2="596.95" y2="331.75" stroke="#8c8c8c" stroke-width="1"/><text x="581.95" y="336.15" font-size="10" text-anchor="end" font-weight="normal" >-8</text><line x1="589.95" y1="296.425" x2="596.95" y2="296.425" stroke="#8c8c8c" stroke-width="1"/><text x="581.95" y="300.825" font-size="10" text-anchor="end" font-weight="normal" >-4</text><line x1="589.95" y1="261.1" x2="596.95" y2="261.1" stroke="#8c8c8c" stroke-width="1"/><text x="581.95" y="265.5" font-size="10" text-anchor="end" font-weight="normal" >0</text><line x1="589.95" y1="225.77500000000003" x2="596.95" y2="225.77500000000003" stroke="#8c8c8c" stroke-width="1"/><text x="581.95" y="230.17500000000004" font-size="10" text-anchor="end" font-weight="normal" >4</text><line x1="589.95" y1="190.45000000000005" x2="596.95" y2="190.45000000000005" stroke="#8c8c8c" stroke-width="1"/><text x="581.95" y="194.85000000000005" font-size="10" text-anchor="end" font-weight="normal" >8</text><text x="518.6" y="209.6" font-size="10.5" text-anchor="start" font-weight="normal" >r =0.694</text><circle cx="536.8" cy="319.9" r="2.05" fill="#21a352"/><circle cx="542.7" cy="317" r="2.05" fill="#21a352"/><circle cx="545.5" cy="316.5" r="2.05" fill="#21a352"/><circle cx="557" cy="322.7" r="2.05" fill="#21a352"/><circle cx="595.5" cy="235.1" r="2.05" fill="#21a352"/><circle cx="609" cy="233.4" r="2.05" fill="#21a352"/><circle cx="612.4" cy="231.7" r="2.05" fill="#21a352"/><circle cx="614.1" cy="235.1" r="2.05" fill="#21a352"/><circle cx="610.7" cy="237.6" r="2.05" fill="#21a352"/><circle cx="608.2" cy="238.5" r="2.05" fill="#21a352"/><circle cx="615.8" cy="238.5" r="2.05" fill="#21a352"/><circle cx="593.8" cy="243.2" r="2.05" fill="#21a352"/><circle cx="596.3" cy="246.9" r="2.05" fill="#21a352"/><circle cx="599.7" cy="247.7" r="2.05" fill="#21a352"/><circle cx="604.8" cy="245.2" r="2.05" fill="#21a352"/><circle cx="609.9" cy="243.5" r="2.05" fill="#21a352"/><circle cx="612.4" cy="246.9" r="2.05" fill="#21a352"/><circle cx="614.9" cy="246.9" r="2.05" fill="#21a352"/><circle cx="588.7" cy="249.4" r="2.05" fill="#21a352"/><circle cx="598" cy="252" r="2.05" fill="#21a352"/><circle cx="607.3" cy="252" r="2.05" fill="#21a352"/><circle cx="610.7" cy="252.8" r="2.05" fill="#21a352"/><circle cx="614.1" cy="255.4" r="2.05" fill="#21a352"/><circle cx="591.3" cy="255.4" r="2.05" fill="#21a352"/><circle cx="593" cy="257" r="2.05" fill="#21a352"/><circle cx="600.6" cy="255.4" r="2.05" fill="#21a352"/><circle cx="602.3" cy="257.9" r="2.05" fill="#21a352"/><circle cx="605.6" cy="257.9" r="2.05" fill="#21a352"/><circle cx="586.2" cy="257.9" r="2.05" fill="#21a352"/><circle cx="561.7" cy="256.2" r="2.05" fill="#21a352"/><circle cx="574.4" cy="260.4" r="2.05" fill="#21a352"/><circle cx="589.6" cy="261.3" r="2.05" fill="#21a352"/><circle cx="596.3" cy="260.4" r="2.05" fill="#21a352"/><circle cx="599.7" cy="261.3" r="2.05" fill="#21a352"/><circle cx="606.5" cy="262.1" r="2.05" fill="#21a352"/><circle cx="587" cy="263.8" r="2.05" fill="#21a352"/><circle cx="585.4" cy="264.6" r="2.05" fill="#21a352"/><circle cx="598" cy="264.6" r="2.05" fill="#21a352"/><circle cx="600.6" cy="263.8" r="2.05" fill="#21a352"/><circle cx="606.5" cy="265.5" r="2.05" fill="#21a352"/><circle cx="589.6" cy="267.2" r="2.05" fill="#21a352"/><circle cx="600.8" cy="205.1" r="2.05" fill="#21a352"/><circle cx="645.6" cy="204.8" r="2.05" fill="#21a352"/><circle cx="646.5" cy="211.9" r="2.05" fill="#21a352"/><circle cx="625.4" cy="208.2" r="2.05" fill="#21a352"/><circle cx="616.9" cy="211.1" r="2.05" fill="#21a352"/><circle cx="620.3" cy="209.4" r="2.05" fill="#21a352"/><circle cx="636.3" cy="211.9" r="2.05" fill="#21a352"/><circle cx="634.6" cy="213.6" r="2.05" fill="#21a352"/><circle cx="633" cy="216.1" r="2.05" fill="#21a352"/><circle cx="622" cy="217.8" r="2.05" fill="#21a352"/><circle cx="621.1" cy="220.4" r="2.05" fill="#21a352"/><circle cx="627.9" cy="221.2" r="2.05" fill="#21a352"/><circle cx="625.4" cy="222" r="2.05" fill="#21a352"/><circle cx="623.7" cy="222.9" r="2.05" fill="#21a352"/><circle cx="630.4" cy="222.9" r="2.05" fill="#21a352"/><circle cx="633" cy="223.7" r="2.05" fill="#21a352"/><circle cx="608.5" cy="223.7" r="2.05" fill="#21a352"/><circle cx="614.4" cy="225.4" r="2.05" fill="#21a352"/><circle cx="616.1" cy="226.3" r="2.05" fill="#21a352"/><circle cx="622" cy="225.4" r="2.05" fill="#21a352"/><circle cx="620.3" cy="228" r="2.05" fill="#21a352"/><circle cx="621.1" cy="230.5" r="2.05" fill="#21a352"/><circle cx="612.7" cy="228.8" r="2.05" fill="#21a352"/><circle cx="616.1" cy="231.3" r="2.05" fill="#21a352"/><circle cx="627.9" cy="229.6" r="2.05" fill="#21a352"/><circle cx="629.6" cy="230.5" r="2.05" fill="#21a352"/><circle cx="624.5" cy="233" r="2.05" fill="#21a352"/><circle cx="628.7" cy="234.7" r="2.05" fill="#21a352"/><circle cx="643.1" cy="227.1" r="2.05" fill="#21a352"/><circle cx="647.3" cy="224.6" r="2.05" fill="#21a352"/><circle cx="607.6" cy="235.6" r="2.05" fill="#21a352"/><circle cx="612.7" cy="236.4" r="2.05" fill="#21a352"/><circle cx="606.8" cy="239.8" r="2.05" fill="#21a352"/><circle cx="616.9" cy="237.3" r="2.05" fill="#21a352"/><circle cx="613.5" cy="240.6" r="2.05" fill="#21a352"/><circle cx="616.9" cy="243.2" r="2.05" fill="#21a352"/><circle cx="609.3" cy="245.7" r="2.05" fill="#21a352"/><circle cx="600.8" cy="246.5" r="2.05" fill="#21a352"/><circle cx="615.2" cy="249.1" r="2.05" fill="#21a352"/><circle cx="645.6" cy="252.5" r="2.05" fill="#21a352"/><circle cx="543.7" cy="262.9" r="2.05" fill="#21a352"/><circle cx="558.5" cy="262.9" r="2.05" fill="#21a352"/><circle cx="625.1" cy="264" r="2.05" fill="#21a352"/><circle cx="592.3" cy="253.6" r="2.05" fill="#21a352"/><circle cx="572.9" cy="266.3" r="2.05" fill="#21a352"/><circle cx="577.3" cy="270.1" r="2.05" fill="#21a352"/><circle cx="579.9" cy="268.8" r="2.05" fill="#21a352"/><circle cx="571.6" cy="272" r="2.05" fill="#21a352"/><circle cx="574.8" cy="271.3" r="2.05" fill="#21a352"/><circle cx="572.2" cy="274.5" r="2.05" fill="#21a352"/><circle cx="574.8" cy="275.1" r="2.05" fill="#21a352"/><circle cx="576.7" cy="277" r="2.05" fill="#21a352"/><circle cx="581.8" cy="278.3" r="2.05" fill="#21a352"/><circle cx="564" cy="278.3" r="2.05" fill="#21a352"/><circle cx="564" cy="282.7" r="2.05" fill="#21a352"/><circle cx="572.2" cy="278.3" r="2.05" fill="#21a352"/><circle cx="574.2" cy="280.8" r="2.05" fill="#21a352"/><circle cx="576" cy="280.8" r="2.05" fill="#21a352"/><circle cx="576.7" cy="283.4" r="2.05" fill="#21a352"/><circle cx="572.2" cy="284" r="2.05" fill="#21a352"/><circle cx="574.2" cy="284.6" r="2.05" fill="#21a352"/><circle cx="579.2" cy="285.3" r="2.05" fill="#21a352"/><circle cx="571.6" cy="287.2" r="2.05" fill="#21a352"/><circle cx="573.5" cy="286.5" r="2.05" fill="#21a352"/><circle cx="569.7" cy="289.1" r="2.05" fill="#21a352"/><circle cx="577.3" cy="287.8" r="2.05" fill="#21a352"/><circle cx="561.5" cy="289.1" r="2.05" fill="#21a352"/><circle cx="552.6" cy="289.1" r="2.05" fill="#21a352"/><circle cx="548.8" cy="292.9" r="2.05" fill="#21a352"/><circle cx="557" cy="292.9" r="2.05" fill="#21a352"/><circle cx="560.8" cy="294.1" r="2.05" fill="#21a352"/><circle cx="563.4" cy="294.8" r="2.05" fill="#21a352"/><circle cx="565.9" cy="294.1" r="2.05" fill="#21a352"/><circle cx="568.4" cy="292.9" r="2.05" fill="#21a352"/><circle cx="574.8" cy="294.8" r="2.05" fill="#21a352"/><circle cx="581.8" cy="294.8" r="2.05" fill="#21a352"/><circle cx="565.3" cy="298.6" r="2.05" fill="#21a352"/><circle cx="562.1" cy="301.1" r="2.05" fill="#21a352"/><circle cx="551.3" cy="301.1" r="2.05" fill="#21a352"/><circle cx="553.2" cy="303" r="2.05" fill="#21a352"/><circle cx="554.5" cy="306.2" r="2.05" fill="#21a352"/><circle cx="558.9" cy="306.8" r="2.05" fill="#21a352"/><circle cx="560.2" cy="305.6" r="2.05" fill="#21a352"/><circle cx="568.4" cy="304.9" r="2.05" fill="#21a352"/><line x1="536" y1="315.2" x2="646.5" y2="207.2" stroke="#111" stroke-width="1.25"/><text x="593.65" y="352.2" font-size="10.2" text-anchor="middle" font-weight="bold" textLength="163.7" lengthAdjust="spacing">B73<tspan font-size="7.2" dy="-2.8">a</tspan><tspan dy="2.8"> : Mo17</tspan><tspan font-size="7.2" dy="-2.8">a</tspan><tspan dy="2.8"> _B x M_shoot_log</tspan><tspan font-size="6.6" dy="1.9">2</tspan></text><text x="0" y="0" font-size="10.2" text-anchor="middle" font-weight="bold" textLength="154.6" lengthAdjust="spacing" transform="translate(487.5,260.3) rotate(-90)">B73<tspan font-size="7.2" dy="-2.8">a</tspan><tspan dy="2.8"> : Mo17</tspan><tspan font-size="7.2" dy="-2.8">a</tspan><tspan dy="2.8"> _B x M_root_log</tspan><tspan font-size="6.6" dy="1.9">2</tspan></text></g></svg></body></html>
